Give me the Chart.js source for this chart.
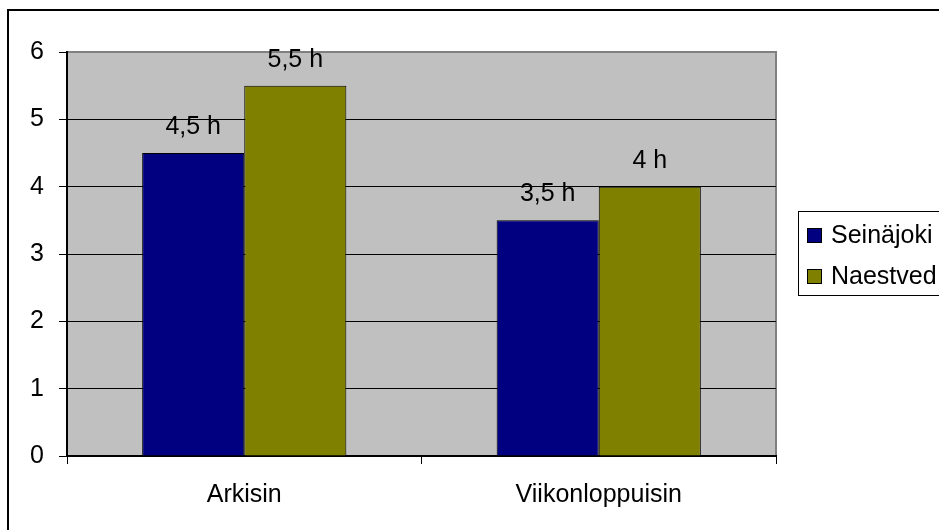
<!DOCTYPE html>
<html>
<head>
<meta charset="utf-8">
<script src="https://cdn.jsdelivr.net/npm/chart.js@4.4.1/dist/chart.umd.min.js"></script>
<style>
  html, body { margin: 0; padding: 0; background: #fff; }
  #wrap { width: 939px; height: 530px; position: relative; }
</style>
</head>
<body>
<div id="wrap"><canvas id="hoursChart"></canvas></div>
<script>
(function () {
  "use strict";

  var categories = ["Arkisin", "Viikonloppuisin"];
  var seriesNames = ["Seinäjoki", "Naestved"];
  var seinajoki = [4.5, 3.5];
  var naestved = [5.5, 4];
  var yMin = 0;
  var yMax = 6;
  var yStep = 1;

  var navy = "#000080";
  var olive = "#808000";
  var plotGray = "#C0C0C0";
  var font = { family: "'Liberation Sans', Arial, sans-serif", size: 25 };

  Chart.defaults.font.family = font.family;
  Chart.defaults.font.size = font.size;
  Chart.defaults.color = "#000";

  // gray plot background + outer frame
  var plotBackground = {
    id: "plotBackground",
    beforeDraw: function (chart) {
      var c = chart.ctx, a = chart.chartArea;
      c.save();
      c.fillStyle = plotGray;
      c.fillRect(a.left, a.top, a.right - a.left, a.bottom - a.top);
      c.strokeStyle = "#808080";
      c.lineWidth = 2;
      c.beginPath();
      c.moveTo(a.left, a.top);
      c.lineTo(a.right, a.top);
      c.lineTo(a.right, a.bottom);
      c.stroke();
      c.strokeStyle = "#000";
      c.lineWidth = 2;
      c.strokeRect(8, 10, 1200, 1200);
      c.restore();
    }
  };

  // "4,5 h" style labels above bars
  var barLabels = {
    id: "barLabels",
    afterDatasetsDraw: function (chart) {
      var c = chart.ctx;
      c.save();
      c.font = font.size + "px " + font.family;
      c.fillStyle = "#000";
      c.textAlign = "center";
      c.textBaseline = "alphabetic";
      chart.data.datasets.forEach(function (ds, di) {
        chart.getDatasetMeta(di).data.forEach(function (bar, i) {
          var txt = String(ds.data[i]).replace(".", ",") + " h";
          c.fillText(txt, bar.x, bar.y - 19);
        });
      });
      c.restore();
    }
  };

  // boxed legend to the right of the plot
  var boxLegend = {
    id: "boxLegend",
    afterDraw: function (chart) {
      var c = chart.ctx, a = chart.chartArea;
      var x = a.right + 22, y = 211;
      c.save();
      c.strokeStyle = "#000";
      c.lineWidth = 1;
      c.strokeRect(x + 0.5, y + 0.5, 300, 84);
      c.font = font.size + "px " + font.family;
      c.textAlign = "left";
      c.textBaseline = "alphabetic";
      chart.data.datasets.forEach(function (ds, i) {
        var sy = y + 17 + i * 41;
        c.fillStyle = ds.backgroundColor;
        c.fillRect(x + 9, sy, 15, 15);
        c.strokeRect(x + 9.5, sy + 0.5, 14, 14);
        c.fillStyle = "#000";
        c.fillText(ds.label, x + 33, sy + 15);
      });
      c.restore();
    }
  };

  var ctx = document.getElementById("hoursChart").getContext("2d");

  new Chart(ctx, {
    type: "bar",
    data: {
      labels: categories,
      datasets: [
        {
          label: seriesNames[0],
          data: seinajoki,
          backgroundColor: navy,
          borderColor: "#000",
          borderWidth: 1,
          barPercentage: 1,
          categoryPercentage: 0.576
        },
        {
          label: seriesNames[1],
          data: naestved,
          backgroundColor: olive,
          borderColor: "#000",
          borderWidth: 1,
          barPercentage: 1,
          categoryPercentage: 0.576
        }
      ]
    },
    options: {
      responsive: true,
      maintainAspectRatio: false,
      animation: false,
      layout: {
        padding: { top: 52, right: 163, bottom: 0, left: 0 }
      },
      scales: {
        y: {
          min: yMin,
          max: yMax,
          afterFit: function (scale) { scale.width = 67; },
          border: { color: "#000", width: 2 },
          grid: {
            color: function (c) { return c.tick && c.tick.value === yMax ? "#808080" : "#000"; },
            tickColor: "#000",
            lineWidth: 1,
            tickLength: 8
          },
          ticks: {
            stepSize: yStep,
            padding: 15,
            color: "#000"
          }
        },
        x: {
          afterFit: function (scale) { scale.height = 74; },
          border: { color: "#000", width: 2 },
          grid: {
            drawOnChartArea: false,
            offset: true,
            color: "#000",
            tickLength: 8
          },
          ticks: {
            padding: 16,
            color: "#000",
            maxRotation: 0
          }
        }
      },
      plugins: {
        legend: { display: false },
        tooltip: { enabled: false }
      }
    },
    plugins: [plotBackground, barLabels, boxLegend]
  });
})();
</script>
</body>
</html>
